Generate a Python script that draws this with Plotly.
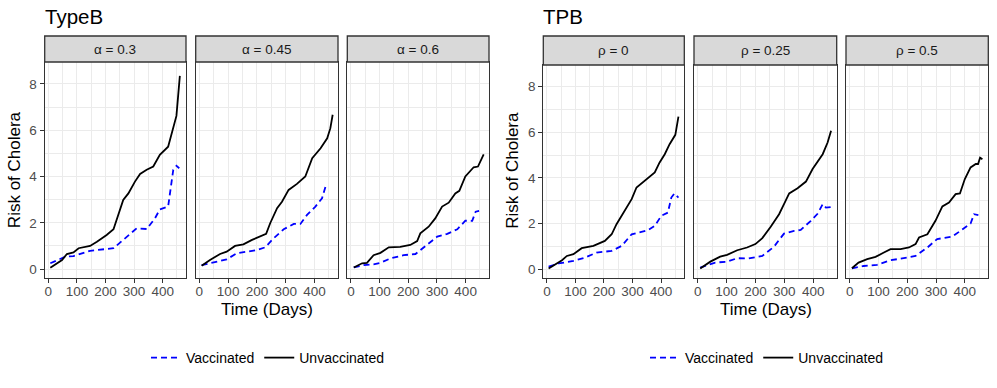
import plotly.graph_objects as go

W, H = 997, 388

# ---- data (days, risk) ----
a03_unvac_days = [7, 48, 65, 88, 106, 146, 170, 204, 228, 241, 262, 280, 303, 321, 344, 367, 390, 419, 437, 448, 460]
a03_unvac_risk = [0.06, 0.39, 0.65, 0.72, 0.9, 1.0, 1.18, 1.47, 1.72, 2.19, 2.99, 3.27, 3.78, 4.11, 4.29, 4.43, 4.94, 5.29, 6.16, 6.62, 8.35]
a03_vac_days = [7, 59, 88, 146, 228, 274, 309, 344, 373, 390, 419, 437, 448, 458]
a03_vac_risk = [0.25, 0.53, 0.56, 0.79, 0.9, 1.4, 1.76, 1.73, 2.19, 2.58, 2.7, 4.29, 4.46, 4.36]

a045_unvac_days = [8, 37, 72, 95, 124, 153, 183, 206, 232, 246, 270, 287, 310, 339, 368, 392, 421, 444, 455, 463]
a045_unvac_risk = [0.14, 0.39, 0.65, 0.75, 1.0, 1.07, 1.26, 1.37, 1.52, 1.98, 2.63, 2.91, 3.42, 3.68, 4.0, 4.79, 5.22, 5.65, 6.09, 6.67]
a045_vac_days = [8, 60, 95, 130, 200, 229, 258, 293, 328, 351, 374, 403, 426, 438, 449]
a045_vac_risk = [0.17, 0.32, 0.42, 0.68, 0.82, 0.94, 1.33, 1.72, 1.95, 1.95, 2.34, 2.7, 3.06, 3.56, 3.56]

a06_unvac_days = [10, 39, 56, 79, 103, 132, 172, 207, 231, 242, 271, 294, 318, 341, 364, 378, 399, 428, 443, 463]
a06_unvac_risk = [0.07, 0.25, 0.27, 0.6, 0.7, 0.94, 0.96, 1.04, 1.21, 1.54, 1.83, 2.19, 2.7, 2.87, 3.27, 3.38, 4.0, 4.4, 4.43, 4.96]
a06_vac_days = [10, 45, 79, 103, 138, 184, 225, 265, 301, 336, 371, 399, 423, 435, 447]
a06_vac_risk = [0.07, 0.17, 0.2, 0.27, 0.46, 0.6, 0.65, 1.04, 1.4, 1.52, 1.72, 2.09, 2.08, 2.48, 2.51]

r0_unvac_days = [6, 29, 53, 70, 93, 122, 163, 203, 227, 244, 273, 297, 314, 331, 354, 378, 395, 413, 430, 450, 461]
r0_unvac_risk = [0.03, 0.22, 0.39, 0.58, 0.66, 0.92, 1.02, 1.24, 1.53, 1.97, 2.56, 3.07, 3.58, 3.75, 4.02, 4.24, 4.68, 5.04, 5.48, 5.89, 6.69]
r0_vac_days = [6, 41, 93, 134, 174, 227, 262, 297, 354, 378, 401, 424, 436, 447, 461]
r0_vac_risk = [0.11, 0.25, 0.36, 0.51, 0.73, 0.8, 1.02, 1.53, 1.71, 1.9, 2.34, 2.48, 3.14, 3.32, 3.14]

r025_unvac_days = [9, 44, 78, 102, 137, 171, 200, 224, 253, 282, 299, 317, 346, 375, 398, 433, 450, 462]
r025_unvac_risk = [0.03, 0.33, 0.55, 0.63, 0.83, 0.95, 1.1, 1.36, 1.86, 2.41, 2.85, 3.32, 3.55, 3.84, 4.39, 5.04, 5.55, 6.07]
r025_vac_days = [9, 61, 102, 137, 177, 224, 264, 299, 334, 357, 392, 416, 433, 444, 464]
r025_vac_risk = [0.07, 0.29, 0.33, 0.48, 0.47, 0.58, 0.98, 1.56, 1.68, 1.72, 2.12, 2.44, 2.85, 2.7, 2.73]

r05_unvac_days = [8, 31, 61, 90, 119, 142, 177, 206, 229, 241, 270, 298, 322, 345, 368, 383, 400, 420, 438, 446, 453, 461]
r05_unvac_risk = [0.04, 0.29, 0.44, 0.54, 0.73, 0.88, 0.88, 0.95, 1.1, 1.39, 1.53, 2.12, 2.75, 2.92, 3.29, 3.32, 3.95, 4.46, 4.61, 4.61, 4.89, 4.82]
r05_vac_days = [8, 49, 95, 142, 200, 229, 270, 304, 357, 386, 420, 432, 447]
r05_vac_risk = [0.04, 0.14, 0.19, 0.39, 0.51, 0.58, 0.95, 1.32, 1.43, 1.71, 2.0, 2.41, 2.37]

strip_labels = ["α = 0.3", "α = 0.45", "α = 0.6", "ρ = 0", "ρ = 0.25", "ρ = 0.5"]
group_titles = ["TypeB", "TPB"]

panels = [
    (a03_vac_days, a03_vac_risk, a03_unvac_days, a03_unvac_risk),
    (a045_vac_days, a045_vac_risk, a045_unvac_days, a045_unvac_risk),
    (a06_vac_days, a06_vac_risk, a06_unvac_days, a06_unvac_risk),
    (r0_vac_days, r0_vac_risk, r0_unvac_days, r0_unvac_risk),
    (r025_vac_days, r025_vac_risk, r025_unvac_days, r025_unvac_risk),
    (r05_vac_days, r05_vac_risk, r05_unvac_days, r05_unvac_risk),
]

# ---- layout geometry (pixels) ----
panel_x = [(44.7, 186), (195.7, 338), (347.3, 489), (543.3, 684.3), (694, 836.7), (846, 988.3)]
strip_top = 36
strip_bottom = [62, 62, 62, 65, 65, 65]
panel_bottom = 278.3

FONT = "Liberation Sans, Arial, sans-serif"
GRID = "#EBEBEB"
BORDER = "#333333"


def px_x(v):
    return v / W


def px_y(v):
    return 1 - v / H


fig = go.Figure()
shapes = []
annotations = []
layout_axes = {}

for i, (vd, vr, ud, ur) in enumerate(panels):
    n = "" if i == 0 else str(i + 1)
    legend_name = "legend" if i < 3 else "legend2"
    show = i in (0, 3)
    fig.add_trace(go.Scatter(x=vd, y=vr, mode="lines", name="Vaccinated",
                             line=dict(color="#0000FF", width=1.8, dash="6px,4px"),
                             xaxis="x" + n, yaxis="y" + n, showlegend=show,
                             legend=legend_name, hoverinfo="skip"))
    fig.add_trace(go.Scatter(x=ud, y=ur, mode="lines", name="Unvaccinated",
                             line=dict(color="black", width=1.8),
                             xaxis="x" + n, yaxis="y" + n, showlegend=show,
                             legend=legend_name, hoverinfo="skip"))

    x0, x1 = panel_x[i]
    sb = strip_bottom[i]
    first = i in (0, 3)
    layout_axes["xaxis" + n] = dict(
        domain=[px_x(x0), px_x(x1)], anchor="y" + n, range=[-12.6, 481.5],
        tickvals=[0, 100, 200, 300, 400], ticks="outside", ticklen=4, tickwidth=1.2,
        ticklabelstandoff=-4,
        tickcolor=BORDER, tickfont=dict(size=13.5, color="#4D4D4D", family=FONT),
        showgrid=True, gridcolor=GRID, gridwidth=1.1, zeroline=False,
        showline=True, mirror=True, linecolor=BORDER, linewidth=1.3,
        minor=dict(tickvals=[50, 150, 250, 350, 450], showgrid=True,
                   gridcolor=GRID, gridwidth=0.6, ticks=""),
    )
    layout_axes["yaxis" + n] = dict(
        domain=[px_y(panel_bottom), px_y(sb)], anchor="x" + n, range=[-0.4, 8.95],
        tickvals=[0, 2, 4, 6, 8], showticklabels=first,
        ticks="outside" if first else "", ticklen=4, tickwidth=1.2,
        tickcolor=BORDER, tickfont=dict(size=13.5, color="#4D4D4D", family=FONT),
        showgrid=True, gridcolor=GRID, gridwidth=1.1, zeroline=False,
        showline=True, mirror=True, linecolor=BORDER, linewidth=1.3,
        minor=dict(tickvals=[1, 3, 5, 7], showgrid=True,
                   gridcolor=GRID, gridwidth=0.6, ticks=""),
    )
    shapes.append(dict(type="rect", xref="paper", yref="paper",
                       x0=px_x(x0), x1=px_x(x1), y0=px_y(sb), y1=px_y(strip_top),
                       fillcolor="#D9D9D9", line=dict(color=BORDER, width=1.3)))
    annotations.append(dict(text=strip_labels[i], xref="paper", yref="paper",
                            x=px_x((x0 + x1) / 2), y=px_y((strip_top + sb) / 2),
                            xanchor="center", yanchor="middle", showarrow=False,
                            font=dict(size=13.5, color="#1A1A1A", family=FONT)))

for g, (left, right, ylab_x) in enumerate([(44.7, 489, 14), (543.3, 988.3, 512.6)]):
    annotations.append(dict(text=group_titles[g], xref="paper", yref="paper",
                            x=px_x(left - 2), y=px_y(16.8), xanchor="left", yanchor="middle",
                            showarrow=False, font=dict(size=20.5, color="black", family=FONT)))
    annotations.append(dict(text="Risk of Cholera", xref="paper", yref="paper",
                            x=px_x(ylab_x), y=px_y((62 + panel_bottom) / 2), textangle=-90,
                            xanchor="center", yanchor="middle", showarrow=False,
                            font=dict(size=17, color="black", family=FONT)))
    annotations.append(dict(text="Time (Days)", xref="paper", yref="paper",
                            x=px_x((left + right) / 2), y=px_y(309),
                            xanchor="center", yanchor="middle", showarrow=False,
                            font=dict(size=17, color="black", family=FONT)))

legend_style = dict(orientation="h", xanchor="center", yanchor="middle", y=px_y(358),
                    bgcolor="rgba(0,0,0,0)", font=dict(size=14, color="black", family=FONT),
                    itemwidth=30)

fig.update_layout(
    width=W, height=H, margin=dict(l=0, r=0, t=0, b=0),
    paper_bgcolor="white", plot_bgcolor="white",
    font=dict(family=FONT),
    shapes=shapes, annotations=annotations,
    legend=dict(x=px_x(268), **legend_style),
    legend2=dict(x=px_x(767), **legend_style),
    **layout_axes,
)

fig.write_html("out.html", config={"displayModeBar": False},
               post_script="document.body.style.margin='0px';")
